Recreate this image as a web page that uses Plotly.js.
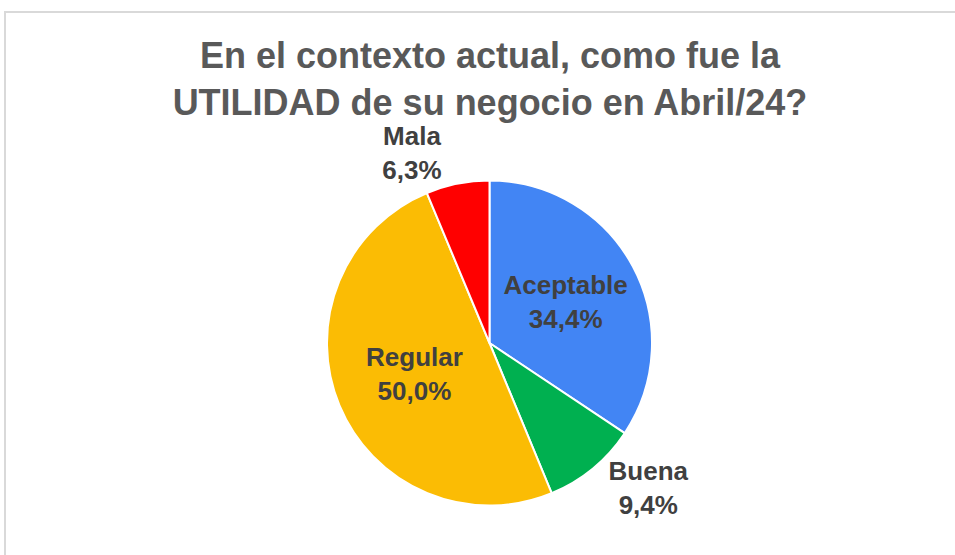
<!DOCTYPE html>
<html>
<head>
<meta charset="utf-8">
<script src="https://cdn.plot.ly/plotly-3.0.1.min.js"></script>
<style>html,body{margin:0;padding:0;background:#fff;}#chart{width:955px;height:555px;}</style>
</head>
<body>
<div id="chart"></div>
<script>
const categories = ['Aceptable', 'Buena', 'Regular', 'Mala'];
const values = [34.4, 9.4, 50.0, 6.3];
const colors = ['#4285F4', '#00B050', '#FBBC04', '#FF0000'];
const textPositions = ['inside', 'outside', 'inside', 'outside'];
const titleText = 'En el contexto actual, como fue la<br>UTILIDAD de su negocio en Abril/24?';

const W = 955, H = 555;
const cx = 489.5, cy = 343, r = 162.5;

const trace = {
  type: 'pie',
  labels: categories,
  values: values,
  sort: false,
  direction: 'clockwise',
  rotation: 0,
  marker: {colors: colors, line: {color: '#ffffff', width: 2}},
  texttemplate: '<b>%{label}</b><br><b>%{value:.1f}%</b>',
  textposition: textPositions,
  insidetextorientation: 'horizontal',
  textfont: {family: 'Liberation Sans, Arial, sans-serif', size: 26, color: '#404040'},
  hoverinfo: 'label+percent',
  showlegend: false,
  domain: {x: [(cx - r) / W, (cx + r) / W], y: [(H - cy - r) / H, (H - cy + r) / H]}
};

const layout = {
  width: W, height: H,
  margin: {l: 0, r: 0, t: 0, b: 0},
  paper_bgcolor: '#ffffff',
  separators: ',.',
  title: {
    text: '<b>' + titleText + '</b>',
    font: {family: 'Liberation Sans, Arial, sans-serif', size: 36, color: '#595959'},
    x: 490 / W, xanchor: 'center',
    yref: 'container', y: 1 - 68 / H, yanchor: 'top'
  },
  shapes: [{
    type: 'rect', xref: 'paper', yref: 'paper',
    x0: 5 / W, x1: 1.05, y0: -0.05, y1: 1 - 12 / H,
    line: {color: '#d9d9d9', width: 2}, fillcolor: 'rgba(0,0,0,0)'
  }]
};

Plotly.newPlot('chart', [trace], layout, {displayModeBar: false, staticPlot: true});
</script>
</body>
</html>
